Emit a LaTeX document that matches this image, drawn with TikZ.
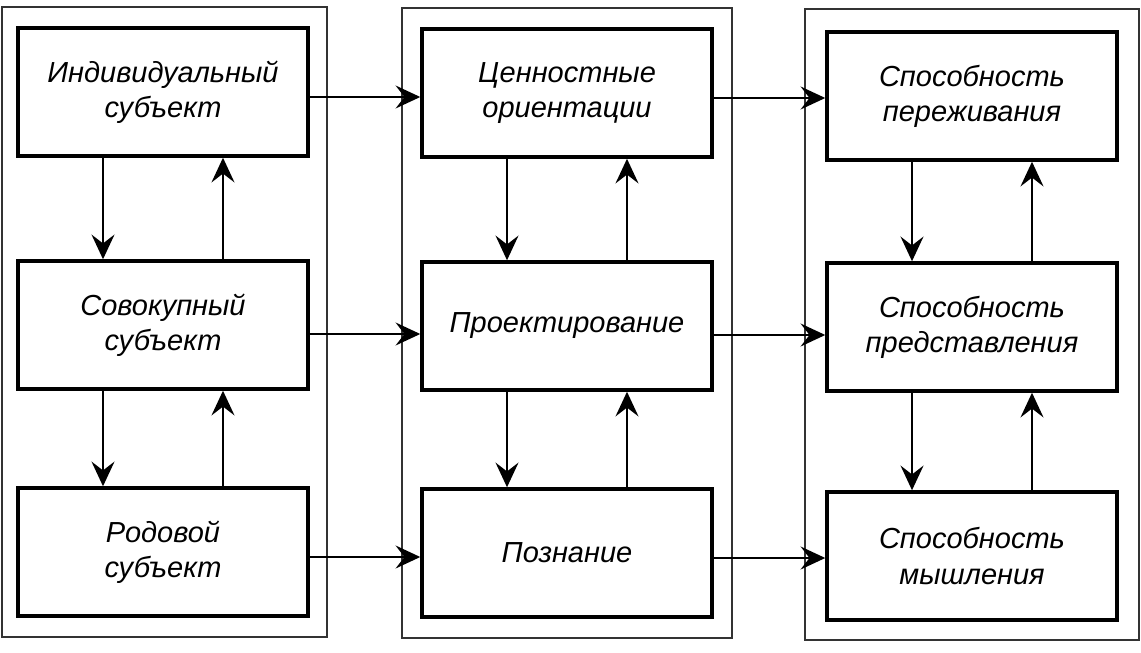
\documentclass[tikz,border=0pt]{standalone}
\usepackage{fontspec}
\setmainfont{Liberation Sans}
\usepackage{tikz}
\usepackage{xcolor}
\usetikzlibrary{
    arrows.meta,
    shapes,
    positioning,
    calc
}
\tikzset{
    frame/.style={draw=black!80, line width=1pt},
    block/.style={draw, line width=2pt, minimum width=5.8cm, minimum height=2.56cm,
        align=center, font=\fontsize{16.5}{20}\selectfont\itshape},
    link/.style={-{Stealth[length=14pt, width=13pt, inset=5pt]}, line width=1.6pt}
}
\begin{document}
\begin{tikzpicture}[x=0.02cm, y=-0.02cm]
                \useasboundingbox (0,0) rectangle (1141,652);
                \draw[frame] (2,7) rectangle (327,637);
                \draw[frame] (402,8) rectangle (732,638);
                \draw[frame] (805,9) rectangle (1139,640);

                \node[block] (ind) at (163,92) {Индивидуальный\\субъект};
                \node[block] (sov) at (163,325) {Совокупный\\субъект};
                \node[block] (rod) at (163,552) {Родовой\\субъект};

                \node[block] (cen) at (567,93) {Ценностные\\ориентации};
                \node[block] (pro) at (567,326) {Проектирование};
                \node[block] (poz) at (567,553) {Познание};

                \node[block] (per) at (972,96) {Способность\\переживания};
                \node[block] (pre) at (972,327) {Способность\\представления};
                \node[block] (mys) at (972,556) {Способность\\мышления};

                \foreach \a/\b in {ind/sov, sov/rod, cen/pro, pro/poz, per/pre, pre/mys}{
                    \draw[link] ([xshift=-1.2cm]\a.south) -- ([xshift=-1.2cm]\b.north);
                    \draw[link] ([xshift=1.2cm]\b.north) -- ([xshift=1.2cm]\a.south);
                }
                \foreach \a/\b/\s in {ind/cen/0.1, sov/pro/0.18, rod/poz/0.1, cen/per/0.1, pro/pre/0.18, poz/mys/0.1}{
                    \draw[link] ([yshift=-\s cm]\a.east) -- ([yshift=-\s cm]\a.east -| \b.west);
                }
\end{tikzpicture}
\end{document}
